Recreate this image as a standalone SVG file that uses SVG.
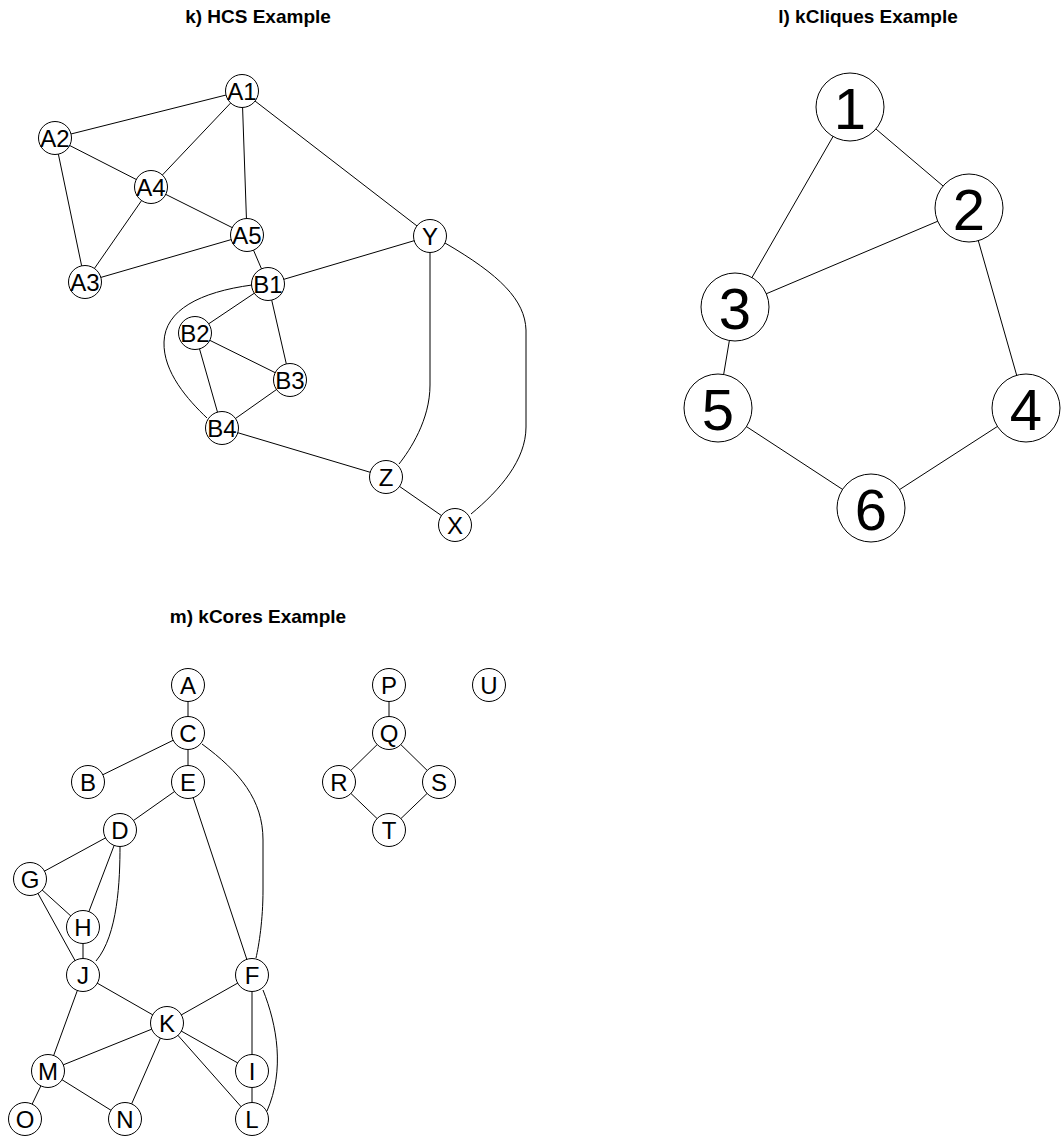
<svg xmlns="http://www.w3.org/2000/svg" width="1062" height="1142" viewBox="0 0 1062 1142">
<style>
.t{font-family:"Liberation Sans",Arial,sans-serif;font-weight:bold;font-size:19px;fill:#000;text-anchor:middle}
.e line,.e path{stroke:#000;stroke-width:1;fill:none}
.n circle{fill:#fff;stroke:#000;stroke-width:1}
.n text{font-family:"Liberation Sans",Arial,sans-serif;font-size:24px;fill:#000;text-anchor:middle}
.big circle{fill:#fff;stroke:#000;stroke-width:1}
.big text{font-family:"Liberation Sans",Arial,sans-serif;font-size:58px;fill:#000;text-anchor:middle}
</style>
<rect width="1062" height="1142" fill="#fff"/>
<text class="t" x="258" y="23">k) HCS Example</text>
<text class="t" x="868" y="23">l) kCliques Example</text>
<text class="t" x="258" y="623">m) kCores Example</text>

<g id="connectors" class="e">
<!-- HCS -->
<line x1="242" y1="91" x2="55" y2="138"/>
<line x1="242" y1="91" x2="151" y2="187"/>
<line x1="242" y1="91" x2="247" y2="235"/>
<line x1="242" y1="91" x2="430" y2="236"/>
<line x1="55" y1="138" x2="151" y2="187"/>
<line x1="55" y1="138" x2="85" y2="282"/>
<line x1="151" y1="187" x2="247" y2="235"/>
<line x1="151" y1="187" x2="85" y2="282"/>
<line x1="247" y1="235" x2="85" y2="282"/>
<line x1="247" y1="235" x2="268" y2="284"/>
<line x1="268" y1="284" x2="430" y2="236"/>
<line x1="268" y1="284" x2="195" y2="333"/>
<line x1="268" y1="284" x2="290" y2="380"/>
<path d="M252,285 C200,292 165,310 164,342 C163,372 188,400 207,418"/>
<line x1="195" y1="333" x2="290" y2="380"/>
<line x1="195" y1="333" x2="222" y2="428"/>
<line x1="290" y1="380" x2="222" y2="428"/>
<line x1="222" y1="428" x2="386" y2="477"/>
<path d="M430,252 L430,385 C430,420 410,450 399,464"/>
<line x1="386" y1="477" x2="455" y2="525"/>
<path d="M445,243 C500,275 525,300 526,330 L526,427 C526,460 500,490 471,514"/>
<!-- kCliques -->
<line x1="850" y1="107" x2="969" y2="208"/>
<line x1="850" y1="107" x2="735" y2="307"/>
<line x1="969" y1="208" x2="735" y2="307"/>
<line x1="969" y1="208" x2="1026" y2="408"/>
<line x1="735" y1="307" x2="718" y2="408"/>
<line x1="718" y1="408" x2="871" y2="508"/>
<line x1="1026" y1="408" x2="871" y2="508"/>
<!-- kCores -->
<line x1="188" y1="685" x2="188" y2="733"/>
<line x1="188" y1="733" x2="88" y2="782"/>
<line x1="188" y1="733" x2="188" y2="782"/>
<path d="M202,744 C240,772 263,800 263,840 L263,890 C263,920 259,945 256,958"/>
<line x1="188" y1="782" x2="120" y2="830"/>
<line x1="188" y1="782" x2="252" y2="975"/>
<line x1="120" y1="830" x2="30" y2="879"/>
<line x1="120" y1="830" x2="83" y2="927"/>
<path d="M120,846 C120,880 118,935 96,961"/>
<line x1="30" y1="879" x2="83" y2="927"/>
<line x1="30" y1="879" x2="83" y2="975"/>
<line x1="83" y1="927" x2="83" y2="975"/>
<line x1="83" y1="975" x2="167" y2="1023"/>
<line x1="83" y1="975" x2="48" y2="1071"/>
<line x1="252" y1="975" x2="167" y2="1023"/>
<line x1="252" y1="975" x2="252" y2="1071"/>
<path d="M263,990 C277,1025 285,1070 267,1111"/>
<line x1="167" y1="1023" x2="48" y2="1071"/>
<line x1="167" y1="1023" x2="125" y2="1119"/>
<line x1="167" y1="1023" x2="252" y2="1071"/>
<line x1="167" y1="1023" x2="252" y2="1119"/>
<line x1="48" y1="1071" x2="125" y2="1119"/>
<line x1="48" y1="1071" x2="25" y2="1119"/>
<line x1="252" y1="1071" x2="252" y2="1119"/>
<line x1="389" y1="685" x2="389" y2="733"/>
<line x1="389" y1="733" x2="339" y2="782"/>
<line x1="389" y1="733" x2="439" y2="782"/>
<line x1="339" y1="782" x2="389" y2="830"/>
<line x1="439" y1="782" x2="389" y2="830"/>
</g>

<!-- HCS nodes -->
<g id="A1" class="n"><circle cx="242" cy="91" r="16.5"/><text x="242" y="99.5">A1</text></g>
<g id="A2" class="n"><circle cx="55" cy="138" r="16.5"/><text x="55" y="146.5">A2</text></g>
<g id="A3" class="n"><circle cx="85" cy="282" r="16.5"/><text x="85" y="290.5">A3</text></g>
<g id="A4" class="n"><circle cx="151" cy="187" r="16.5"/><text x="151" y="195.5">A4</text></g>
<g id="A5" class="n"><circle cx="247" cy="235" r="16.5"/><text x="247" y="243.5">A5</text></g>
<g id="B1" class="n"><circle cx="268" cy="284" r="16.5"/><text x="268" y="292.5">B1</text></g>
<g id="B2" class="n"><circle cx="195" cy="333" r="16.5"/><text x="195" y="341.5">B2</text></g>
<g id="B3" class="n"><circle cx="290" cy="380" r="16.5"/><text x="290" y="388.5">B3</text></g>
<g id="B4" class="n"><circle cx="222" cy="428" r="16.5"/><text x="222" y="436.5">B4</text></g>
<g id="Y" class="n"><circle cx="430" cy="236" r="16.5"/><text x="430" y="244.5">Y</text></g>
<g id="Z" class="n"><circle cx="386" cy="477" r="16.5"/><text x="386" y="485.5">Z</text></g>
<g id="X" class="n"><circle cx="455" cy="525" r="16.5"/><text x="455" y="533.5">X</text></g>

<!-- kCliques nodes -->
<g id="n1" class="big"><circle cx="850" cy="107" r="34"/><text x="850" y="129">1</text></g>
<g id="n2" class="big"><circle cx="969" cy="208" r="34"/><text x="969" y="230">2</text></g>
<g id="n3" class="big"><circle cx="735" cy="307" r="34"/><text x="735" y="329">3</text></g>
<g id="n4" class="big"><circle cx="1026" cy="408" r="34"/><text x="1026" y="430">4</text></g>
<g id="n5" class="big"><circle cx="718" cy="408" r="34"/><text x="718" y="430">5</text></g>
<g id="n6" class="big"><circle cx="871" cy="508" r="34"/><text x="871" y="530">6</text></g>

<!-- kCores nodes -->
<g id="A" class="n"><circle cx="188" cy="685" r="16.5"/><text x="188" y="693.5">A</text></g>
<g id="B" class="n"><circle cx="88" cy="782" r="16.5"/><text x="88" y="790.5">B</text></g>
<g id="C" class="n"><circle cx="188" cy="733" r="16.5"/><text x="188" y="741.5">C</text></g>
<g id="D" class="n"><circle cx="120" cy="830" r="16.5"/><text x="120" y="838.5">D</text></g>
<g id="E" class="n"><circle cx="188" cy="782" r="16.5"/><text x="188" y="790.5">E</text></g>
<g id="F" class="n"><circle cx="252" cy="975" r="16.5"/><text x="252" y="983.5">F</text></g>
<g id="G" class="n"><circle cx="30" cy="879" r="16.5"/><text x="30" y="887.5">G</text></g>
<g id="H" class="n"><circle cx="83" cy="927" r="16.5"/><text x="83" y="935.5">H</text></g>
<g id="I" class="n"><circle cx="252" cy="1071" r="16.5"/><text x="252" y="1079.5">I</text></g>
<g id="J" class="n"><circle cx="83" cy="975" r="16.5"/><text x="83" y="983.5">J</text></g>
<g id="K" class="n"><circle cx="167" cy="1023" r="16.5"/><text x="167" y="1031.5">K</text></g>
<g id="L" class="n"><circle cx="252" cy="1119" r="16.5"/><text x="252" y="1127.5">L</text></g>
<g id="M" class="n"><circle cx="48" cy="1071" r="16.5"/><text x="48" y="1079.5">M</text></g>
<g id="N" class="n"><circle cx="125" cy="1119" r="16.5"/><text x="125" y="1127.5">N</text></g>
<g id="O" class="n"><circle cx="25" cy="1119" r="16.5"/><text x="25" y="1127.5">O</text></g>
<g id="P" class="n"><circle cx="389" cy="685" r="16.5"/><text x="389" y="693.5">P</text></g>
<g id="Q" class="n"><circle cx="389" cy="733" r="16.5"/><text x="389" y="741.5">Q</text></g>
<g id="R" class="n"><circle cx="339" cy="782" r="16.5"/><text x="339" y="790.5">R</text></g>
<g id="S" class="n"><circle cx="439" cy="782" r="16.5"/><text x="439" y="790.5">S</text></g>
<g id="T" class="n"><circle cx="389" cy="830" r="16.5"/><text x="389" y="838.5">T</text></g>
<g id="U" class="n"><circle cx="489" cy="685" r="16.5"/><text x="489" y="693.5">U</text></g>
</svg>
